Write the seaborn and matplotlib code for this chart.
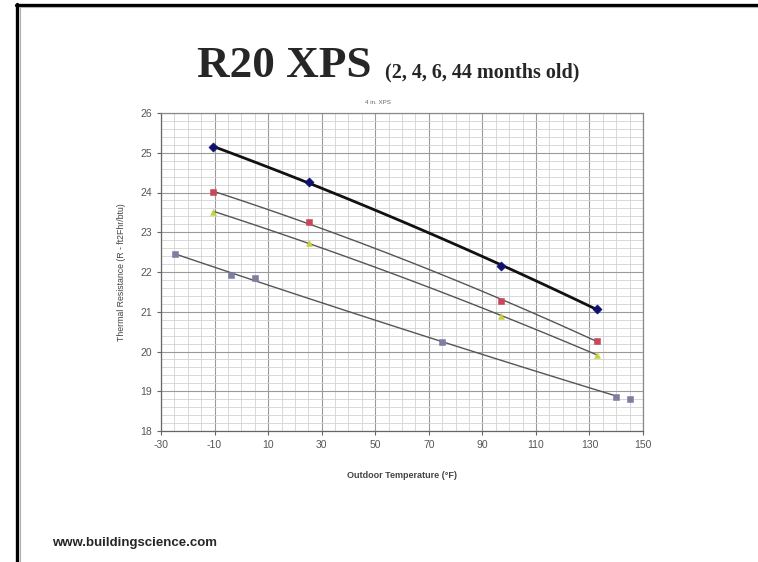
import numpy as np
import pandas as pd
import matplotlib
matplotlib.use("Agg")
import matplotlib.pyplot as plt
from matplotlib.lines import Line2D
from matplotlib.ticker import MultipleLocator
import seaborn as sns

# readings, one array per sample age
temp_a = [-10.5, 25.4, 97, 132.9]
r_a = [25.14, 24.27, 22.14, 21.07]

temp_b = [-10.5, 25.4, 97, 132.9]
r_b = [24.01, 23.25, 21.27, 20.27]

temp_c = [-10.5, 25.4, 97, 132.9]
r_c = [23.52, 22.73, 20.89, 19.92]

temp_d = [-24.8, -3.7, 5.1, 74.9, 140.1, 145.0]
r_d = [22.45, 21.92, 21.86, 20.23, 18.86, 18.80]

x_ticks = [-30, -10, 10, 30, 50, 70, 90, 110, 130, 150]
y_ticks = [18, 19, 20, 21, 22, 23, 24, 25, 26]

sns.set_style("white")
plt.rcParams['font.family'] = ['Liberation Sans', 'DejaVu Sans']
plt.rcParams['axes.unicode_minus'] = False

fig = plt.figure(figsize=(7.58, 5.62), dpi=100)
ax = fig.add_axes([161 / 758, 1 - 431 / 562, (643 - 161) / 758, (431 - 113) / 562])

series = [
    (temp_a, r_a, "D", "#10106e", "#111111", 2.0, 22),
    (temp_b, r_b, "s", "#c8485a", "#555555", 1.0, 18),
    (temp_c, r_c, "^", "#c8d23c", "#555555", 1.0, 18),
    (temp_d, r_d, "s", "#7e7ea4", "#555555", 1.0, 18),
]

for xs, ys, mk, mcol, lcol, lw, size in series:
    # excel-style 2nd order trendline through the points
    coef = np.polyfit(xs, ys, 2)
    x_end = max(xs) - 6 if len(xs) > 4 else max(xs)
    xx = np.linspace(min(xs), x_end, 60)
    trend = pd.DataFrame({"x": xx, "y": np.polyval(coef, xx)})
    sns.lineplot(data=trend, x="x", y="y", color=lcol, linewidth=lw, ax=ax, zorder=3)
    pts = pd.DataFrame({"x": xs, "y": ys})
    sns.scatterplot(data=pts, x="x", y="y", marker=mk, color=mcol, s=size,
                    edgecolor=mcol, linewidth=0.4, ax=ax, zorder=4)

ax.set_xlim(-30, 150)
ax.set_ylim(18, 26)
ax.set_xticks(x_ticks)
ax.set_yticks(y_ticks)
ax.xaxis.set_minor_locator(MultipleLocator(5))
ax.yaxis.set_minor_locator(MultipleLocator(0.2))
ax.grid(which="major", color="#9a9a9a", linewidth=0.8)
ax.grid(which="minor", color="#d2d2d2", linewidth=0.6)
ax.set_axisbelow(True)
ax.tick_params(axis="both", which="major", labelsize=7.5, labelcolor="#555555",
               direction="out", length=3, width=0.8, color="#666666",
               bottom=True, left=True)
ax.tick_params(which="minor", length=0)
for side, sp in ax.spines.items():
    sp.set_color("#888888")
    sp.set_linewidth(0.9)
ax.spines["left"].set_color("#666666")
ax.spines["bottom"].set_color("#666666")

ax.set_xlabel("Outdoor Temperature (°F)", fontsize=6.5, color="#444444",
              fontweight="bold", labelpad=15)
ax.set_ylabel("Thermal Resistance (R - ft2Fhr/btu)", fontsize=6.3, color="#444444",
              labelpad=10)

# titles
fig.text(197 / 758, 1 - 77 / 562, "R20 XPS", fontsize=32.5, fontweight="bold",
         family=["Liberation Serif", "DejaVu Serif"], ha="left", va="baseline")
fig.text(385 / 758, 1 - 77 / 562, "(2, 4, 6, 44 months old)", fontsize=14.5,
         fontweight="bold", family=["Liberation Serif", "DejaVu Serif"],
         ha="left", va="baseline")
fig.text(378 / 758, 1 - 102 / 562, "4 in. XPS", fontsize=4.5, color="#666666",
         ha="center", va="center")

fig.text(52 / 758, 1 - 543 / 562, "www.buildingscience.com", fontsize=9.5,
         fontweight="bold", ha="left", va="center")

# slide frame
fig.add_artist(Line2D([17 / 758, 17 / 758], [0, 1 - 4 / 562], color="black",
                      linewidth=2.4, transform=fig.transFigure))
fig.add_artist(Line2D([16 / 758, 1], [1 - 4.5 / 562, 1 - 4.5 / 562], color="black",
                      linewidth=2.4, transform=fig.transFigure))
fig.add_artist(Line2D([19 / 758, 1], [1 - 7 / 562, 1 - 7 / 562], color="#b0b0b0",
                      linewidth=0.8, transform=fig.transFigure))
fig.add_artist(Line2D([19.5 / 758, 19.5 / 758], [0, 1 - 7 / 562], color="#b0b0b0",
                      linewidth=0.8, transform=fig.transFigure))

fig.savefig("out.png", dpi=100)
